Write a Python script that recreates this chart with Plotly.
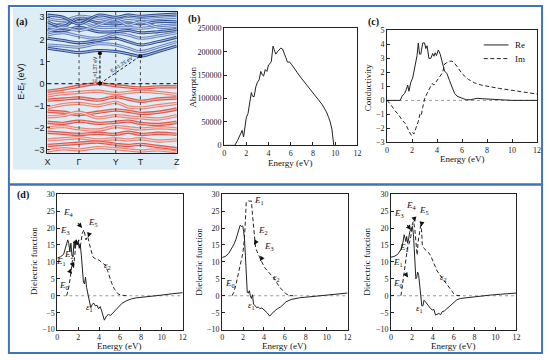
import plotly.graph_objects as go

# ---------------- DATA ----------------
# (a) band structure
K_POS = [0, 1.0, 2.16, 2.94, 4.09]
K_LABELS = ["X", "Γ", "Y", "T", "Z"]
K_SAMPLE = [0, 0.5, 1.0, 1.6, 2.16, 2.55, 2.94, 3.5, 4.09]
COND_BANDS = [
    [1.60, 1.50, 1.40, 1.50, 1.45, 1.35, 1.24, 1.45, 1.70],
    [1.75, 1.70, 1.65, 1.80, 1.75, 1.60, 1.45, 1.65, 1.90],
    [2.05, 1.95, 1.85, 1.95, 2.05, 1.90, 1.75, 1.90, 2.10],
    [2.20, 2.30, 2.15, 2.05, 2.25, 2.20, 2.05, 2.15, 2.30],
    [2.45, 2.40, 2.55, 2.35, 2.35, 2.40, 2.30, 2.35, 2.45],
    [2.60, 2.70, 2.80, 2.55, 2.55, 2.55, 2.50, 2.60, 2.65],
    [2.80, 2.60, 2.95, 2.75, 2.70, 2.75, 2.70, 2.80, 2.80],
    [2.95, 2.85, 3.05, 2.95, 2.85, 2.95, 2.90, 2.95, 3.00],
    [3.10, 3.00, 2.70, 3.10, 3.00, 3.10, 3.05, 3.10, 3.15],
    [2.35, 2.55, 2.40, 2.65, 2.90, 2.65, 2.80, 2.55, 2.60],
]
VAL_BANDS = [
    [-0.35, -0.25, -0.12, 0.00, -0.10, -0.15, -0.20, -0.15, -0.15],
    [-0.55, -0.45, -0.40, -0.35, -0.45, -0.40, -0.35, -0.40, -0.50],
    [-0.75, -0.70, -0.65, -0.75, -0.60, -0.70, -0.80, -0.70, -0.65],
    [-1.10, -0.95, -0.90, -1.00, -0.85, -1.05, -1.10, -1.00, -0.90],
    [-1.25, -1.30, -1.40, -1.30, -1.20, -1.25, -1.35, -1.30, -1.15],
    [-1.50, -1.45, -1.30, -1.55, -1.45, -1.50, -1.55, -1.60, -1.45],
    [-1.75, -1.80, -1.70, -1.80, -1.75, -1.70, -1.80, -1.85, -1.75],
    [-2.00, -1.95, -2.05, -2.10, -1.95, -2.00, -2.05, -2.00, -2.05],
    [-2.20, -2.25, -2.30, -2.25, -2.30, -2.20, -2.30, -2.25, -2.30],
    [-2.55, -2.50, -2.45, -2.55, -2.50, -2.55, -2.50, -2.60, -2.55],
    [-2.80, -2.75, -2.70, -2.65, -2.75, -2.80, -2.75, -2.85, -2.95],
    [-3.05, -2.95, -3.00, -2.90, -2.95, -3.00, -3.05, -3.00, -3.10],
]
GAP_K = [1.66, 1.66, 2.94]
GAP_E = [0.0, 1.37, 1.25]

# (b) absorption
B_E = [0, 0.95, 1.2, 1.4, 1.55, 1.62, 1.75, 1.85, 2.0, 2.15, 2.3, 2.45, 2.55, 2.7, 2.85, 3.0,
       3.15, 3.3, 3.45, 3.55, 3.7, 3.85, 4.0, 4.15, 4.25, 4.4, 4.5, 4.65, 4.8, 4.95, 5.1, 5.25,
       5.4, 5.55, 5.7, 5.9, 6.1, 6.3, 6.6, 6.9, 7.2, 7.5, 7.8, 8.1, 8.4, 8.6, 8.8, 9.0, 9.2,
       9.4, 9.55, 9.7, 9.8, 9.87]
B_A = [0, 0, 10000, 20000, 25000, 32000, 18000, 35000, 60000, 68000, 90000, 113000, 105000,
       104000, 125000, 135000, 140000, 158000, 150000, 148000, 162000, 158000, 172000, 175000,
       180000, 212000, 205000, 195000, 200000, 205000, 208000, 206000, 198000, 188000, 178000,
       178000, 172000, 164000, 155000, 145000, 136000, 128000, 118000, 110000, 100000, 96000,
       88000, 80000, 72000, 60000, 50000, 35000, 20000, 0]

# (c) conductivity
C_NAMES = ["Re", "Im"]
C_E_RE = [0, 1.05, 1.2, 1.4, 1.55, 1.65, 1.75, 1.9, 2.05, 2.2, 2.3, 2.4, 2.5, 2.6, 2.7, 2.85,
          3.0, 3.1, 3.2, 3.35, 3.5, 3.65, 3.75, 3.85, 3.95, 4.1, 4.25, 4.35, 4.45, 4.6, 4.8,
          5.0, 5.2, 5.4, 5.6, 5.9, 6.3, 6.7, 7.2, 7.6, 8.0, 8.5, 9.0, 9.5, 10.0, 12.0]
C_RE = [0, 0, 0.3, 0.5, 0.8, 1.1, 0.65, 1.3, 1.6, 2.3, 2.5, 3.2, 4.1, 3.3, 3.3, 4.1, 4.1,
        3.7, 3.9, 3.0, 3.0, 3.35, 3.15, 3.4, 3.2, 3.6, 3.3, 2.8, 2.6, 2.1, 1.9, 1.4, 0.9, 0.5,
        0.3, 0.2, 0.05, 0.05, 0.15, 0.12, 0.1, 0.12, 0.05, 0.02, 0, 0]
C_E_IM = [0, 0.3, 0.6, 0.9, 1.2, 1.5, 1.75, 1.95, 2.05, 2.15, 2.3, 2.5, 2.65, 2.75, 2.85, 3.0,
          3.2, 3.4, 3.6, 3.75, 3.9, 4.1, 4.3, 4.45, 4.6, 4.8, 5.0, 5.2, 5.4, 5.7, 6.0, 6.5,
          7.0, 7.5, 8.0, 9.0, 10.0, 11.0, 12.0]
C_IM = [0, -0.3, -0.7, -1.0, -1.4, -1.7, -2.2, -2.5, -2.3, -2.4, -2.0, -1.5, -0.9, -1.0,
        -0.5, 0.1, 0.5, 0.8, 1.2, 1.1, 1.3, 1.6, 1.8, 2.0, 2.6, 2.7, 2.8, 2.8, 2.65, 2.3, 1.9,
        1.5, 1.25, 1.1, 1.0, 0.85, 0.72, 0.58, 0.45]

# (d) dielectric functions
D1_E_EPS1 = [0, 0.3, 0.6, 0.85, 1.0, 1.1, 1.2, 1.3, 1.4, 1.5, 1.6, 1.7, 1.8, 1.9, 2.0, 2.1,
             2.2, 2.3, 2.4, 2.5, 2.6, 2.7, 2.8, 2.9, 3.0, 3.1, 3.2, 3.35, 3.5, 3.65, 3.8, 3.95,
             4.1, 4.25, 4.4, 4.5, 4.7, 4.9, 5.1, 5.3, 5.5, 5.8, 6.2, 6.6, 7.1, 7.6, 8.4, 9.2,
             10.0, 11.0, 12.0]
D1_EPS1 = [11.2, 11.5, 12.2, 14.5, 16.5, 15.5, 13.0, 15.5, 12.0, 11.5, 16.0, 14.0, 16.5,
           15.0, 16.0, 14.0, 15.0, 12.0, 8.0, 4.0, 3.5, 5.5, 2.5, 1.0, -0.5, -1.5, -3.5, -2.5,
           -2.2, -3.0, -2.8, -3.8, -3.2, -4.5, -6.5, -7.2, -6.0, -5.5, -5.8, -5.2, -4.5, -3.5,
           -2.2, -1.5, -0.9, -0.6, -0.4, -0.1, 0.2, 0.6, 0.9]
D1_E_EPS2 = [0.9, 1.1, 1.25, 1.35, 1.45, 1.55, 1.65, 1.75, 1.85, 1.95, 2.05, 2.15, 2.25, 2.4,
             2.55, 2.65, 2.75, 2.85, 2.95, 3.1, 3.25, 3.4, 3.6, 3.8, 4.0, 4.2, 4.4, 4.6, 4.8,
             5.0, 5.2, 5.4, 5.6, 5.8, 6.0, 6.3, 6.8]
D1_EPS2 = [0, 2.5, 5.5, 9.0, 10.5, 8.0, 12.0, 14.5, 16.0, 15.0, 16.5, 14.0, 15.5, 18.5, 19.5,
           18.0, 16.5, 17.5, 17.0, 15.0, 13.0, 11.5, 11.0, 10.8, 10.5, 10.0, 9.5, 9.0, 7.5,
           5.5, 3.8, 2.3, 1.3, 0.6, 0.3, 0.1, 0]

D2_E_EPS1 = [0, 0.3, 0.6, 0.9, 1.1, 1.3, 1.45, 1.6, 1.72, 1.85, 1.97, 2.05, 2.13, 2.22, 2.3,
             2.4, 2.5, 2.6, 2.7, 2.8, 2.9, 3.0, 3.13, 3.3, 3.45, 3.6, 3.8, 4.05, 4.3, 4.55,
             4.8, 5.0, 5.3, 5.6, 6.1, 6.6, 7.4, 8.6, 9.9, 11.0, 12.0]
D2_EPS1 = [11.3, 11.6, 12.4, 13.8, 15.0, 16.5, 18.0, 20.0, 20.8, 20.5, 20.6, 19.0, 17.0, 12.0,
           5.0, 1.0, 0.8, 1.5, 0.0, -0.8, 0.3, -2.5, -2.8, -3.5, -3.3, -3.8, -3.6, -4.3, -5.0,
           -6.0, -5.0, -4.5, -3.8, -3.3, -1.8, -1.1, -0.6, -0.2, 0.3, 0.55, 0.8]
D2_E_EPS2 = [0.95, 1.1, 1.3, 1.57, 1.75, 1.88, 2.0, 2.13, 2.22, 2.3, 2.38, 2.5, 2.65, 2.8, 2.9,
             3.04, 3.2, 3.35, 3.54, 3.76, 4.07, 4.3, 4.55, 4.8, 5.0, 5.3, 5.55, 5.8, 6.1, 6.4,
             6.8]
D2_EPS2 = [0, 1.0, 3.0, 6.4, 9.0, 11.2, 13.0, 17.0, 22.0, 27.5, 27.8, 28.0, 27.9, 28.0, 24.0,
           19.0, 14.1, 13.0, 11.5, 10.2, 8.3, 7.5, 6.4, 5.6, 5.0, 3.5, 2.3, 1.6, 0.6, 0.1, 0]

D3_E_EPS1 = [0, 0.3, 0.63, 0.95, 1.1, 1.26, 1.35, 1.42, 1.5, 1.6, 1.7, 1.8, 1.9, 2.05, 2.15,
             2.27, 2.38, 2.46, 2.55, 2.65, 2.75, 2.85, 2.95, 3.05, 3.16, 3.3, 3.45, 3.63, 3.8,
             3.95, 4.1, 4.26, 4.4, 4.58, 4.75, 4.9, 5.1, 5.37, 5.7, 6.0, 6.3, 6.63, 7.1, 7.6,
             8.5, 9.5, 10.5, 12.0]
D3_EPS1 = [11.4, 11.6, 12.2, 13.6, 15.0, 18.0, 17.0, 16.0, 17.5, 15.5, 17.0, 19.0, 19.5,
           20.5, 18.0, 11.2, 5.0, 5.4, 7.0, 6.0, 3.5, 1.0, -3.0, -3.0, -1.3, -1.8, -2.5, -3.3,
           -3.8, -4.2, -4.0, -5.7, -5.5, -5.2, -5.6, -4.7, -4.5, -3.7, -2.8, -1.8, -1.2, -0.8,
           -0.6, -0.4, -0.1, 0.2, 0.45, 0.8]
D3_E_EPS2 = [0.95, 1.1, 1.26, 1.4, 1.58, 1.75, 1.9, 2.05, 2.15, 2.27, 2.4, 2.5, 2.6, 2.7, 2.84,
             2.92, 3.0, 3.15, 3.3, 3.45, 3.63, 3.8, 3.95, 4.2, 4.42, 4.74, 5.05, 5.3, 5.53,
             5.8, 6.0, 6.3, 6.8]
D3_EPS2 = [0, 3.5, 8.3, 11.5, 14.1, 15.5, 17.5, 21.3, 22.0, 20.0, 14.0, 12.0, 16.0, 18.0,
           20.8, 19.5, 15.0, 14.0, 13.6, 13.0, 12.6, 11.8, 10.7, 9.0, 7.3, 5.9, 4.5, 3.5, 2.5,
           1.5, 0.6, 0.1, 0]

# ---------------- FIGURE ----------------
W, H = 550, 360
SERIF = "Liberation Serif"
SANS = "Liberation Sans"
DASH = "4px,2.5px"


def px(x):
    return x / W


def py(y):
    return 1 - y / H


fig = go.Figure()

# band structure traces
cond_cols = [("#2f4f92", "#aebfe4"), ("#6782c0", "#d3def3")]
val_cols = [("#e0584c", "#f7c0b8"), ("#eb857a", "#fcdcd7")]
for i, b in enumerate(COND_BANDS):
    oc, ic = cond_cols[i % 2]
    fig.add_trace(go.Scatter(x=K_SAMPLE, y=b, mode="lines", line=dict(color=oc, width=3.0, shape="spline"),
                             xaxis="x", yaxis="y", showlegend=False, hoverinfo="skip"))
    fig.add_trace(go.Scatter(x=K_SAMPLE, y=b, mode="lines", line=dict(color=ic, width=1.0, shape="spline"),
                             xaxis="x", yaxis="y", showlegend=False, hoverinfo="skip"))
for i, b in enumerate(VAL_BANDS):
    oc, ic = val_cols[i % 2]
    fig.add_trace(go.Scatter(x=K_SAMPLE, y=b, mode="lines", line=dict(color=oc, width=3.4, shape="spline"),
                             xaxis="x", yaxis="y", showlegend=False, hoverinfo="skip"))
    fig.add_trace(go.Scatter(x=K_SAMPLE, y=b, mode="lines", line=dict(color=ic, width=1.0, shape="spline"),
                             xaxis="x", yaxis="y", showlegend=False, hoverinfo="skip"))
# gap lines
fig.add_trace(go.Scatter(x=[GAP_K[0], GAP_K[1]], y=[GAP_E[0], GAP_E[1]], mode="lines",
                         line=dict(color="#222", width=1.2, dash="3px,2px"), xaxis="x", yaxis="y",
                         showlegend=False, hoverinfo="skip"))
fig.add_trace(go.Scatter(x=[GAP_K[0], GAP_K[2]], y=[GAP_E[0], GAP_E[2]], mode="lines",
                         line=dict(color="#222", width=1.0, dash="3px,2px"), xaxis="x", yaxis="y",
                         showlegend=False, hoverinfo="skip"))
fig.add_trace(go.Scatter(x=GAP_K, y=GAP_E, mode="markers", marker=dict(color="black", size=4),
                         xaxis="x", yaxis="y", showlegend=False, hoverinfo="skip"))

# (b)
fig.add_trace(go.Scatter(x=B_E, y=B_A, mode="lines", line=dict(color="#222", width=1),
                         xaxis="x2", yaxis="y2", showlegend=False))
# (c)
fig.add_trace(go.Scatter(x=C_E_RE, y=C_RE, mode="lines", name=C_NAMES[0], line=dict(color="#222", width=1),
                         xaxis="x3", yaxis="y3", showlegend=False))
fig.add_trace(go.Scatter(x=C_E_IM, y=C_IM, mode="lines", name=C_NAMES[1],
                         line=dict(color="#222", width=1, dash=DASH), xaxis="x3", yaxis="y3",
                         showlegend=False))
# (d)
for k, (e1x, e1, e2x, e2) in enumerate([(D1_E_EPS1, D1_EPS1, D1_E_EPS2, D1_EPS2),
                                        (D2_E_EPS1, D2_EPS1, D2_E_EPS2, D2_EPS2),
                                        (D3_E_EPS1, D3_EPS1, D3_E_EPS2, D3_EPS2)]):
    xa, ya = "x%d" % (k + 4), "y%d" % (k + 4)
    fig.add_trace(go.Scatter(x=e1x, y=e1, mode="lines", line=dict(color="#222", width=1),
                             xaxis=xa, yaxis=ya, showlegend=False))
    fig.add_trace(go.Scatter(x=e2x, y=e2, mode="lines", line=dict(color="#222", width=1, dash=DASH),
                             xaxis=xa, yaxis=ya, showlegend=False))

common = dict(showline=True, linecolor="#222", linewidth=1, mirror=True, ticks="inside",
              ticklen=3, tickwidth=1, tickcolor="#222", showgrid=False, zeroline=False,
              tickfont=dict(family=SERIF, size=8, color="#222"))

layout = dict(
    width=W, height=H, margin=dict(l=0, r=0, t=0, b=0),
    paper_bgcolor="white", plot_bgcolor="rgba(0,0,0,0)",
    showlegend=False,
    xaxis=dict(domain=[px(45), px(176)], range=[0, K_POS[-1]], tickvals=K_POS, ticktext=K_LABELS,
               showline=True, linecolor="#222", linewidth=1, mirror=True, ticks="", showgrid=False,
               zeroline=False, tickfont=dict(family=SANS, size=9, color="#222"), anchor="y"),
    yaxis=dict(domain=[py(153), py(8)], range=[-3.15, 3.25], tickvals=[-3, -2, -1, 0, 1, 2, 3],
               showline=True, linecolor="#222", linewidth=1, mirror=True, ticks="inside", ticklen=3,
               showgrid=False, zeroline=False, tickfont=dict(family=SANS, size=9, color="#222"),
               anchor="x"),
    xaxis2=dict(domain=[px(224), px(359)], range=[0, 12], dtick=2, anchor="y2", **common),
    yaxis2=dict(domain=[py(145), py(25)], range=[0, 250000], dtick=50000, tickformat="d",
                anchor="x2", **common),
    xaxis3=dict(domain=[px(389), px(541)], range=[0, 12], dtick=2, anchor="y3", **common),
    yaxis3=dict(domain=[py(142), py(27)], range=[-3, 5], dtick=1, anchor="x3", **common),
)
d_x = [(55, 182), (222, 349), (393, 520)]
for k, (x0, x1) in enumerate(d_x):
    layout["xaxis%d" % (k + 4)] = dict(domain=[px(x0), px(x1)], range=[0, 12], dtick=2,
                                       anchor="y%d" % (k + 4), **common)
    layout["yaxis%d" % (k + 4)] = dict(domain=[py(334), py(195)], range=[-10, 30], dtick=5,
                                       anchor="x%d" % (k + 4), **common)
fig.update_layout(**layout)

shapes = []
# light blue panel background for (a)
shapes.append(dict(type="rect", xref="paper", yref="paper", x0=px(10), x1=px(176), y0=py(170), y1=py(4),
                   fillcolor="#dcedf6", line=dict(width=0), layer="below"))
# vertical high-symmetry lines
for kp in K_POS[1:4]:
    shapes.append(dict(type="line", xref="x", yref="paper", x0=kp, x1=kp, y0=py(153), y1=py(8),
                       line=dict(color="#444", width=1, dash="dot")))
shapes.append(dict(type="line", xref="paper", yref="y", x0=px(45), x1=px(176), y0=0, y1=0,
                   line=dict(color="#333", width=1.2, dash="4px,3px")))
# zero lines
for k in ["3", "4", "5", "6"]:
    shapes.append(dict(type="line", xref="x" + k, yref="y" + k, x0=0, x1=12, y0=0, y1=0,
                       line=dict(color="#999", width=1, dash="dot"), layer="below"))
# legend samples for (c)
shapes.append(dict(type="line", xref="paper", yref="paper", x0=px(487), x1=px(512), y0=py(42), y1=py(42),
                   line=dict(color="#222", width=1)))
shapes.append(dict(type="line", xref="paper", yref="paper", x0=px(487), x1=px(512), y0=py(56), y1=py(56),
                   line=dict(color="#222", width=1, dash=DASH)))
# frames
frame_col = "#3f74bc"
shapes.append(dict(type="rect", xref="paper", yref="paper", x0=px(6), x1=px(546), y0=py(358), y1=py(2),
                   line=dict(color=frame_col, width=2)))
shapes.append(dict(type="line", xref="paper", yref="paper", x0=px(6), x1=px(546), y0=py(185), y1=py(185),
                   line=dict(color=frame_col, width=2.5)))

ann = []


def txt(x, y, s, size=9, family=SERIF, angle=0, bold=False, xanchor="center"):
    ann.append(dict(x=px(x), y=py(y), xref="paper", yref="paper", text=("<b>%s</b>" % s) if bold else s,
                    showarrow=False, textangle=angle, xanchor=xanchor, yanchor="middle",
                    font=dict(family=family, size=size, color="#111")))


txt(19, 18, "(a)", 10, SERIF, bold=True)
txt(193, 15, "(b)", 10, SERIF, bold=True)
txt(375, 18, "(c)", 10, SERIF, bold=True)
txt(20, 196, "(d)", 10, SERIF, bold=True)
txt(18, 80, "E-E<sub>f</sub> (eV)", 9, SANS, angle=-90)
txt(192, 85, "Absorption", 9, SERIF, angle=-90)
txt(291, 163, "Energy (eV)", 9, SERIF)
txt(370, 85, "Conductivity", 9, SERIF, angle=-90)
txt(465, 159, "Energy (eV)", 9, SERIF)
txt(517, 42, C_NAMES[0], 9, SERIF, xanchor="left")
txt(517, 56, C_NAMES[1], 9, SERIF, xanchor="left")
for k, (x0, x1) in enumerate(d_x):
    txt((x0 + x1) / 2, 351, "Energy (eV)", 9, SERIF)
txt(32, 264, "Dielectric function", 9, SERIF, angle=-90)
txt(199, 264, "Dielectric function", 9, SERIF, angle=-90)
txt(369, 264, "Dielectric function", 9, SERIF, angle=-90)
# gap labels
ann.append(dict(x=1.5, y=0.65, xref="x", yref="y", text="E<sub>g</sub>=1.37 eV", showarrow=False,
                textangle=-90, font=dict(family=SANS, size=5, color="#222")))
ann.append(dict(x=2.35, y=0.85, xref="x", yref="y", text="E<sub>g</sub>=1.25 eV", showarrow=False,
                textangle=-33, font=dict(family=SANS, size=5, color="#222")))


def lab(n):
    return "<i>E</i><sub>%s</sub>" % n


D_ARROWS = [
    # subplot, label, label x, label y, head x, head y
    (4, lab(4), 1.1, 24.7, 2.37, 20.0),
    (4, lab(5), 3.4, 21.6, 2.94, 17.2),
    (4, lab(3), 0.75, 19.4, 2.0, 15.0),
    (4, lab(2), 1.1, 12.2, 1.58, 8.3),
    (4, lab(1), 0.4, 10.2, 1.42, 6.4),
    (4, lab(0), 0.63, 3.0, 0.95, 0.4),
    (5, lab(1), 3.5, 28.0, 2.75, 27.8),
    (5, lab(2), 3.9, 19.4, 3.04, 15.0),
    (5, lab(3), 4.5, 14.6, 3.6, 10.2),
    (5, lab(0), 0.72, 3.7, 1.25, 0.4),
    (6, lab(4), 1.96, 26.6, 2.3, 21.8),
    (6, lab(5), 3.16, 25.2, 2.88, 20.4),
    (6, lab(3), 0.8, 24.2, 1.9, 19.4),
    (6, lab(2), 1.26, 14.1, 1.58, 10.7),
    (6, lab(1), 0.63, 9.8, 1.64, 5.4),
    (6, lab(0), 0.63, 3.5, 0.95, 0.4),
]
for sp, t, lx, ly, hx, hy in D_ARROWS:
    ann.append(dict(x=hx, y=hy, ax=lx, ay=ly, xref="x%d" % sp, yref="y%d" % sp, axref="x%d" % sp,
                    ayref="y%d" % sp, text=t, showarrow=True, arrowhead=2, arrowsize=1,
                    arrowwidth=1, arrowcolor="#111", standoff=0, startstandoff=5,
                    font=dict(family=SERIF, size=9, color="#111")))
D_EPS = [
    (4, "<i>ε</i><sub>2</sub>", 4.85, 8.8), (4, "<i>ε</i><sub>1</sub>", 3.06, -3.5),
    (5, "<i>ε</i><sub>2</sub>", 5.2, 5.4), (5, "<i>ε</i><sub>1</sub>", 2.8, -2.8),
    (6, "<i>ε</i><sub>2</sub>", 5.05, 5.4), (6, "<i>ε</i><sub>1</sub>", 2.7, -3.7),
]
for sp, t, x, y in D_EPS:
    ann.append(dict(x=x, y=y, xref="x%d" % sp, yref="y%d" % sp, text=t, showarrow=False,
                    font=dict(family=SERIF, size=9, color="#111")))

fig.update_layout(shapes=shapes, annotations=ann)
fig.write_html("out.html", config={"displayModeBar": False},
               post_script="document.body.style.margin='0';document.body.style.overflow='hidden';")
